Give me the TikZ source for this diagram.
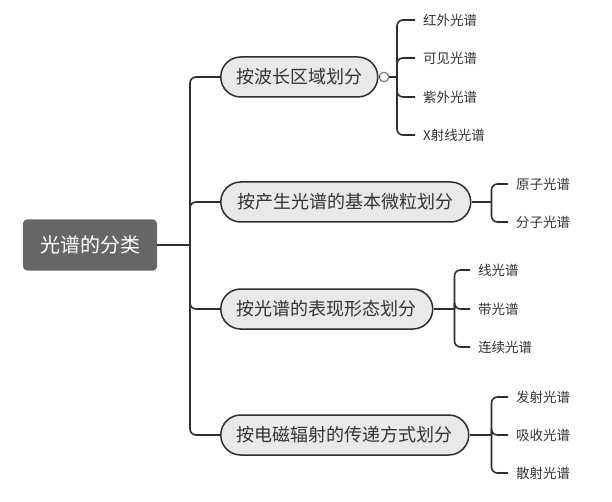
\documentclass[tikz,border=0pt]{standalone}
\usepackage{fontspec}
\setmainfont{Noto Sans CJK SC}
\usetikzlibrary{positioning}
\definecolor{rootgray}{HTML}{666666}
\definecolor{pillgray}{HTML}{E9E9E9}
\definecolor{linegray}{HTML}{2E2E2E}
\definecolor{textgray}{HTML}{333333}
\tikzset{
  rootbox/.style={fill=rootgray,rounded corners=4pt,text=white,font=\fontsize{20}{20}\selectfont,minimum width=134pt,minimum height=51pt},
  pill/.style={draw=linegray,line width=1.5pt,fill=pillgray,rounded corners=20pt,minimum height=40pt,text=textgray,font=\fontsize{18}{18}\selectfont,anchor=west},
  leaf/.style={anchor=west,inner xsep=8pt,text=textgray,font=\fontsize{13.5}{14}\selectfont},
  link/.style={draw=linegray,line width=1.6pt,rounded corners=6pt}
}
\begin{document}
\begin{tikzpicture}[x=1pt,y=-1pt]
\useasboundingbox (0,0) rectangle (612,502);
\node[rootbox] (root) at (90,245) {光谱的分类};
\node[pill,minimum width=157pt] (b1) at (220,77) {按波长区域划分};
\node[pill,minimum width=250pt] (b2) at (220,202) {按产生光谱的基本微粒划分};
\node[pill,minimum width=212pt] (b3) at (220,309) {按光谱的表现形态划分};
\node[pill,minimum width=248pt] (b4) at (220,435) {按电磁辐射的传递方式划分};
% trunk
\coordinate (trunk) at (190,245);
\draw[link] (root.east) -- (trunk);
\foreach \b in {b1,b2,b3,b4} \draw[link] (trunk) |- (\b.west);
% wavelength
\node[circle,draw=gray,fill=white,line width=1.2pt,minimum size=9.5pt,inner sep=0pt] (c1) at (384,77) {};
\draw[link] (b1.east) -- (c1.west);
\coordinate (k1) at (397,77);
\draw[link] (c1.east) -- (k1);
\foreach \t/\y in {红外光谱/20,可见光谱/58,紫外光谱/97,X射线光谱/135}{
  \node[leaf] (la\y) at (415,\y) {\t};
  \draw[link] (k1) |- (la\y.west);
}
% particles
\draw[link] (b2.east) -- ++(20,0) coordinate (k2);
\foreach \t/\y in {原子光谱/184,分子光谱/222}{
  \node[leaf] (lb\y) at (508,\y) {\t};
  \draw[link] (k2) |- (lb\y.west);
}
% forms
\draw[link] (b3.east) -- ++(21,0) coordinate (k3);
\foreach \t/\y in {线光谱/270,带光谱/309,连续光谱/347}{
  \node[leaf] (lc\y) at (470,\y) {\t};
  \draw[link] (k3) |- (lc\y.west);
}
% transfer
\draw[link] (b4.east) -- ++(22,0) coordinate (k4);
\foreach \t/\y in {发射光谱/397,吸收光谱/435,散射光谱/473}{
  \node[leaf] (ld\y) at (508,\y) {\t};
  \draw[link] (k4) |- (ld\y.west);
}
\end{tikzpicture}
\end{document}
